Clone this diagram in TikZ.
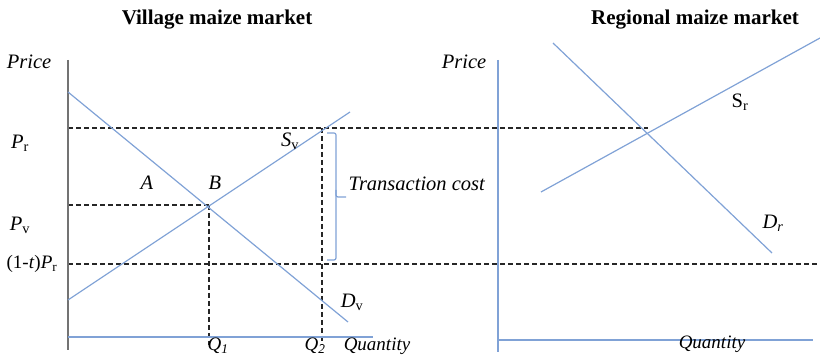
\documentclass[tikz,border=0pt]{standalone}
\usepackage{fontspec}
\setmainfont{Liberation Serif}
\usetikzlibrary{positioning}
\definecolor{vkek}{RGB}{128,162,214}
\tikzset{
  gorbe/.style={draw=vkek,line width=1.2pt},
  szag/.style={draw=black!85,line width=1.2pt,dash pattern=on 5pt off 3pt},
  tengely/.style={line width=1.2pt},
  cim/.style={font=\fontsize{21}{24}\selectfont\bfseries},
  felirat/.style={font=\fontsize{20.5}{24}\selectfont,inner sep=0pt},
  kis/.style={font=\fontsize{19}{22}\selectfont,inner sep=0pt},
}

\begin{document}
\begin{tikzpicture}[x=1pt,y=-1pt]
  \useasboundingbox (0,0) rectangle (820,355);
  % falusi piac
  \coordinate (O1) at (68,337);
  \coordinate (Y1) at (68,60);  \coordinate (Y1b) at (68,350);
  \coordinate (X1) at (373,337);
  \coordinate (Dk) at (68,92);  \coordinate (Dv) at (348,322);
  \coordinate (Sk) at (68,300); \coordinate (Sv) at (350,112);
  \coordinate (B) at (209,205);
  \coordinate (Pr) at (322,128);
  \coordinate (Q1) at (209,345); \coordinate (Q2) at (322,345);
  % regionalis piac
  \coordinate (Y2) at (498,60); \coordinate (Y2b) at (498,352);
  \coordinate (O2) at (498,340); \coordinate (X2) at (813,340);
  \coordinate (Dk2) at (553,43); \coordinate (Dr) at (772,253);
  \coordinate (Sk2) at (541,192); \coordinate (Sr) at (820,38);
  \coordinate (E) at (648,128);

  \draw[szag] (68,128) -- (E);
  \draw[szag] (68,264) -- (820,264);
  \draw[szag] (68,205) -- (B);
  \draw[szag] (B) -- (Q1);
  \draw[szag] (Pr) -- (Q2);

  \draw[tengely,black!55] (Y1) -- (Y1b);
  \draw[tengely,vkek] (O1) -- (X1);
  \draw[tengely,vkek] (Y2) -- (Y2b);
  \draw[tengely,vkek] (O2) -- (X2);

  \draw[gorbe] (Dk) -- (Dv);
  \draw[gorbe] (Sk) -- (Sv);
  \draw[gorbe] (Dk2) -- (Dr);
  \draw[gorbe] (Sk2) -- (Sr);
  \draw[gorbe,rounded corners=2pt] (327,133) -- (336,133) -- (336,197) -- (346,197);
  \draw[gorbe,rounded corners=2pt] (336,190) -- (336,260) -- (327,260);

  \node[cim] (t1) at (217,20) {Village maize market};
  \node[cim] (t2) at (695,20) {Regional maize market};
  \node[felirat] (p1) at (29,62) {\textit{Price}};
  \node[felirat] (p2) at (464,62) {\textit{Price}};
  \node[felirat] (lPr) at (20,143) {\textit{P}\textsubscript{r}};
  \node[felirat] (lPv) at (20,225) {\textit{P}\textsubscript{v}};
  \node[kis] (lPt) at (32,264) {(1-\textit{t})\textit{P}\textsubscript{r}};
  \node[felirat] (lA) at (147,183) {\textit{A}};
  \node[felirat] (lB) at (215,183) {\textit{B}};
  \node[felirat] (lSv) at (290,141) {\textit{S}\textsubscript{v}};
  \node[felirat] (lDv) at (352,302) {\textit{D}\textsubscript{v}};
  \node[felirat] (lTc) at (417,184) {\textit{Transaction cost}};
  \node[kis] (lQ1) at (218,346) {\textit{Q}\textsubscript{\textit{1}}};
  \node[kis] (lQ2) at (315,346) {\textit{Q}\textsubscript{\textit{2}}};
  \node[kis] (lq1) at (377,346) {\textit{Quantity}};
  \node[kis] (lq2) at (712,344) {\textit{Quantity}};
  \node[felirat] (lSr) at (740,102) {S\textsubscript{r}};
  \node[felirat] (lDr) at (773,223) {\textit{D}\textsubscript{\textit{r}}};
\end{tikzpicture}
\end{document}
